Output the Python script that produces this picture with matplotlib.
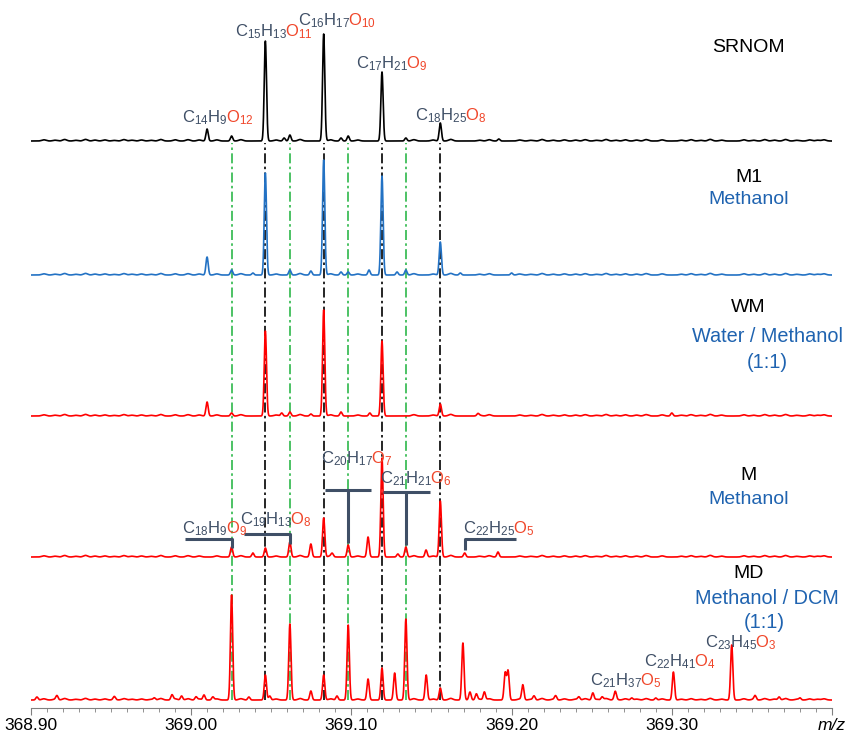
import numpy as np
import matplotlib
matplotlib.use("Agg")
import matplotlib.pyplot as plt

plt.rcParams['font.family'] = ['Liberation Sans', 'DejaVu Sans']
plt.rcParams['mathtext.fontset'] = 'custom'
plt.rcParams['mathtext.rm'] = 'Liberation Sans'
plt.rcParams['mathtext.it'] = 'Liberation Sans:italic'

## data (m/z of peak, height above baseline)
srnom_mz = [369.0099, 369.0252, 369.0463, 369.0580, 369.0616, 369.0827, 369.0935,
            369.0980, 369.1191, 369.1340, 369.1555, 369.1920]
srnom_h = [12, 5, 100, 3, 6, 107, 3, 5, 69, 3, 18, 2]

m1_mz = [369.0099, 369.0252, 369.0385, 369.0463, 369.0616, 369.0747, 369.0827, 369.0935,
         369.0980, 369.1110, 369.1191, 369.1285, 369.1340, 369.1555, 369.1680, 369.2000]
m1_h = [18, 5, 2, 102, 5, 4, 115, 3, 3, 5, 99, 3, 5, 33, 2, 2]

wm_mz = [369.0099, 369.0252, 369.0463, 369.0565, 369.0616, 369.0747, 369.0827, 369.0935,
         369.1115, 369.1191, 369.1555, 369.1790, 369.3000]
wm_h = [14, 3, 85, 3, 4, 2, 106, 4, 3, 75, 12, 2, 3]

m_mz = [369.0252, 369.0385, 369.0463, 369.0616, 369.0747, 369.0827, 369.0880, 369.0980,
        369.1104, 369.1191, 369.1290, 369.1340, 369.1466, 369.1555, 369.1707, 369.1915]
m_h = [10, 4, 9, 15, 13, 39, 3, 12, 20, 99, 3, 10, 7, 56, 4, 5]

md_mz = [368.9037, 368.9162, 368.9520, 368.9770, 368.9880, 368.9940, 369.0030, 369.0080,
         369.0135, 369.0252, 369.0360, 369.0463, 369.0490, 369.0616, 369.0747, 369.0827,
         369.0910, 369.0980, 369.1104, 369.1191, 369.1270, 369.1340, 369.1467, 369.1555,
         369.1696, 369.1740, 369.1780, 369.1830, 369.1960, 369.1978, 369.2070, 369.2140,
         369.2275, 369.2420, 369.2507, 369.2565, 369.2647, 369.2750, 369.2900, 369.3010,
         369.3374, 369.3520, 369.3670, 369.3800]
md_h = [3, 4, 3, 2, 5, 4, 3, 5, 3, 105, 3, 25, 4, 76, 9, 25, 4, 75, 21, 32, 27, 81, 25, 12,
        57, 8, 6, 8, 27, 29, 15, 4, 4, 3, 7, 3, 8, 2, 2, 28, 55, 4, 3, 2]

# small baseline ripple shared by all traces
ripple_mz = [368.908, 368.915, 368.921, 368.928, 368.934, 368.940, 368.946, 368.952,
             368.958, 368.963, 368.969, 368.975, 368.981, 368.990, 368.998, 369.005,
             369.016, 369.031, 369.053, 369.068, 369.087, 369.104, 369.139, 369.151,
             369.162, 369.180, 369.186, 369.205, 369.212, 369.219, 369.226, 369.233,
             369.240, 369.246, 369.253, 369.259, 369.265, 369.271, 369.278, 369.284,
             369.294, 369.306, 369.312, 369.318, 369.324, 369.331, 369.345, 369.351,
             369.358, 369.364, 369.371, 369.378, 369.386, 369.391, 369.395]
ripple_h = [1.2, 0.8, 1.5, 0.7, 1.6, 0.9, 1.1, 0.6, 1.4, 0.8, 1.0, 0.7, 1.5, 1.2, 1.3, 1.0,
            1.1, 1.3, 1.0, 1.5, 1.2, 1.0, 1.3, 1.0, 1.6, 0.8, 1.3, 1.0, 0.7, 1.5, 0.8, 1.1,
            0.9, 1.3, 0.7, 1.5, 0.8, 1.2, 0.9, 1.4, 1.1, 0.8, 1.3, 0.7, 1.6, 0.9, 1.2, 0.8,
            1.4, 0.9, 1.5, 0.7, 1.1, 0.8, 1.2]

names = ["SRNOM", "M1", "WM", "M", "MD"]
offsets = [567, 433, 292, 151, 8]
colors = ["black", "#2372C4", "red", "red", "red"]
spectra = [(srnom_mz, srnom_h), (m1_mz, m1_h), (wm_mz, wm_h), (m_mz, m_h), (md_mz, md_h)]

black_lines = [369.0463, 369.0827, 369.1191, 369.1555]
green_lines = [369.0252, 369.0616, 369.0980, 369.1340]

grey = "#3F4F66"
orange = "#F0462A"
blue = "#1F63B0"

fig = plt.figure(figsize=(8.46, 7.33), dpi=100)
ax = fig.add_axes([31 / 846, 25 / 733, 801 / 846, 708 / 733])

x = np.linspace(368.90, 369.40, 6000)


def trace(mz, h):
    y = np.zeros_like(x)
    for m, hh in zip(mz, h):
        y += hh * np.exp(-0.5 * ((x - m) / 0.0007) ** 2)
    for m, hh in zip(ripple_mz, ripple_h):
        y += hh * np.exp(-0.5 * ((x - m) / 0.0013) ** 2)
    return y


for (mz, h), off, c in zip(spectra, offsets, colors):
    ax.plot(x, trace(mz, h) + off, color=c, lw=1.2, zorder=3)

ax.vlines(black_lines, 8, 565, colors="black", linestyles=(0, (6, 2, 1.5, 2)), lw=1.2, zorder=2)
ax.vlines(green_lines, 8, 565, colors="#2DB84A", linestyles=(0, (6, 2, 1.5, 2)), lw=1.2, zorder=2)

# sample names
xc = 369.3480
xw = 369.3595
ax.text(xc, 660, "SRNOM", ha="center", va="center", fontsize=14)
ax.text(xc, 531, "M1", ha="center", va="center", fontsize=14)
ax.text(xc, 508, "Methanol", ha="center", va="center", fontsize=14, color=blue)
ax.text(xc, 400, "WM", ha="center", va="center", fontsize=14)
ax.text(xw, 371, "Water / Methanol", ha="center", va="center", fontsize=14.3, color=blue)
ax.text(xw, 346, "(1:1)", ha="center", va="center", fontsize=14.3, color=blue)
ax.text(xc, 232, "M", ha="center", va="center", fontsize=14)
ax.text(xc, 208, "Methanol", ha="center", va="center", fontsize=14, color=blue)
ax.text(xc, 135, "MD", ha="center", va="center", fontsize=14)
ax.text(xw, 110, "Methanol / DCM", ha="center", va="center", fontsize=14.3, color=blue)
ax.text(xw - 0.002, 86, "(1:1)", ha="center", va="center", fontsize=14.3, color=blue)

# formula labels: (C, H, O, m/z of left edge, baseline y)
formulas = [
    (14, 9, 12, 368.9942, 586), (15, 13, 11, 369.0273, 672), (16, 17, 10, 369.0666, 683),
    (17, 21, 9, 369.1028, 640), (18, 25, 8, 369.1396, 588),
    (18, 9, 9, 368.9942, 175), (19, 13, 8, 369.0304, 184), (20, 17, 7, 369.0810, 245),
    (21, 21, 6, 369.1178, 225), (22, 25, 5, 369.1696, 175),
    (21, 37, 5, 369.2488, 23), (22, 41, 4, 369.2825, 42), (23, 45, 3, 369.3206, 61),
]
for c, hy, o, fx, fy in formulas:
    t = ax.text(fx, fy, r"$\mathregular{C_{%d}H_{%d}}$" % (c, hy), color=grey,
                fontsize=12, ha="left", va="baseline", zorder=5)
    ax.annotate(r"$\mathregular{O_{%d}}$" % o, xy=(1, 0), xycoords=t, xytext=(-1.2, 0),
                textcoords="offset points", color=orange,
                fontsize=12, ha="left", va="bottom", zorder=5)

# brackets in the M trace
bk = dict(color=grey, lw=2.2, solid_capstyle="butt", zorder=4)
ax.plot([368.9961, 369.0252, 369.0252], [169, 169, 160], **bk)
ax.plot([369.0329, 369.0616, 369.0616], [174, 174, 164], **bk)
ax.plot([369.0835, 369.1122], [218, 218], **bk)
ax.plot([369.0980, 369.0980], [218, 165], **bk)
ax.plot([369.1197, 369.1490], [216, 216], **bk)
ax.plot([369.1340, 369.1340], [216, 163], **bk)
ax.plot([369.1707, 369.1707, 369.2027], [158, 169, 169], **bk)

ax.set_xlim(368.90, 369.40)
ax.set_ylim(0, 708)
for s in ["top", "right", "left"]:
    ax.spines[s].set_visible(False)
ax.spines["bottom"].set_color("#808080")
ax.set_yticks([])
ax.set_xticks([368.90, 369.00, 369.10, 369.20, 369.30, 369.40])
ax.set_xticklabels(["368.90", "369.00", "369.10", "369.20", "369.30", "m/z"], fontsize=12.5)
ax.get_xticklabels()[-1].set_fontstyle("italic")
ax.set_xticks(np.arange(368.90, 369.40, 0.01), minor=True)
ax.tick_params(axis="x", which="major", length=5, color="#808080", pad=2)
ax.tick_params(axis="x", which="minor", length=3, color="#808080")

fig.savefig("out.png", dpi=100)
